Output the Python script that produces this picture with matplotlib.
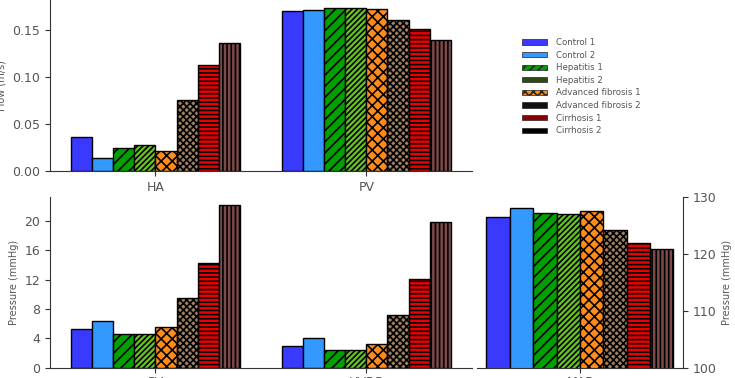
import numpy as np
import matplotlib
matplotlib.use('Agg')
import matplotlib.pyplot as plt
from matplotlib.patches import Patch

groups = ['Control 1', 'Control 2', 'Hepatitis 1', 'Hepatitis 2',
          'Advanced fibrosis 1', 'Advanced fibrosis 2', 'Cirrhosis 1', 'Cirrhosis 2']

flow_sites = ['HA', 'PV']
flow = {
    'HA': [0.036, 0.014, 0.025, 0.028, 0.021, 0.076, 0.113, 0.136],
    'PV': [0.170, 0.171, 0.173, 0.173, 0.172, 0.161, 0.151, 0.139],
}

press_sites = ['PV', 'HVPG']
pressure = {
    'PV': [5.3, 6.3, 4.6, 4.6, 5.5, 9.5, 14.3, 22.2],
    'HVPG': [3.0, 4.1, 2.4, 2.4, 3.2, 7.2, 12.1, 19.9],
}

map_vals = [126.4, 128.1, 127.2, 126.9, 127.5, 124.1, 121.9, 120.9]

bar_colors = ['#3a3aff', '#3399ff', '#00a000', '#66c422',
              '#ff8c1a', '#a08060', '#ee0000', '#7d4a4a']
hatches = ['', '', '///', '//////', 'xxx', 'xxxxx', '----', '||||']

# legend styles (as drawn in the original)
leg_colors = ['#3a3aff', '#3399ff', '#00a000', '#2f4a10',
              '#ff8c1a', '#111111', '#8b0000', '#000000']
leg_hatches = ['', '', '////', '', 'xxxx', '', '', '']

plt.rcParams['hatch.linewidth'] = 1.2
grey = '#555555'
width = 0.1

fig = plt.figure(figsize=(7.35, 3.78), dpi=100)
ax1 = fig.add_axes([0.068, 0.5476, 0.574, 0.4524])
ax2 = fig.add_axes([0.068, 0.0272, 0.574, 0.4524])
ax3 = fig.add_axes([0.649, 0.0272, 0.280, 0.4524])


def draw_groups(ax, sites, data):
    x = np.arange(len(sites))
    for i in range(len(groups)):
        vals = [data[s][i] for s in sites]
        ax.bar(x + (i - 3.5) * width, vals, width, color=bar_colors[i],
               hatch=hatches[i], edgecolor='black', linewidth=1.0)
    ax.set_xticks(x)
    ax.set_xticklabels(sites)
    ax.set_xlim(-0.5, 1.5)


def style(ax):
    for s in ['top', 'right']:
        ax.spines[s].set_visible(False)
    for s in ax.spines.values():
        s.set_color('#333333')
    ax.tick_params(colors='#333333', labelcolor=grey, labelsize=9)


draw_groups(ax1, flow_sites, flow)
style(ax1)
ax1.set_ylim(0, 0.182)
ax1.set_yticks([0, 0.05, 0.10, 0.15])
ax1.set_ylabel('Flow (m/s)', fontsize=7, color=grey)

draw_groups(ax2, press_sites, pressure)
style(ax2)
ax2.set_ylim(0, 23.3)
ax2.set_yticks([0, 4, 8, 12, 16, 20])
ax2.set_ylabel('Pressure (mmHg)', fontsize=7, color=grey)
ax2.tick_params(axis='x', pad=2.5)

for i in range(len(groups)):
    ax3.bar((i - 3.5) * width, map_vals[i], width, color=bar_colors[i],
            hatch=hatches[i], edgecolor='black', linewidth=1.0)
ax3.set_xlim(-0.44, 0.44)
ax3.set_ylim(100, 130)
ax3.set_xticks([0])
ax3.set_xticklabels(['MAP'])
ax3.spines['top'].set_visible(False)
ax3.spines['left'].set_visible(False)
for s in ax3.spines.values():
    s.set_color('#333333')
ax3.yaxis.tick_right()
ax3.yaxis.set_label_position('right')
ax3.set_yticks([100, 110, 120, 130])
ax3.tick_params(colors='#333333', labelcolor=grey, labelsize=9)
ax3.tick_params(axis='x', pad=2.5)
ax3.set_ylabel('Pressure (mmHg)', fontsize=7, color=grey)

handles = [Patch(facecolor=leg_colors[i], hatch=leg_hatches[i], edgecolor='#222222',
                 linewidth=0.5, label=groups[i]) for i in range(len(groups))]
fig.legend(handles=handles, loc='upper left', bbox_to_anchor=(0.70, 0.92),
           frameon=False, fontsize=6.2, labelcolor=grey, handlelength=2.9,
           handleheight=0.55, labelspacing=0.42, handletextpad=1.0)

fig.savefig('out.png', dpi=100)
